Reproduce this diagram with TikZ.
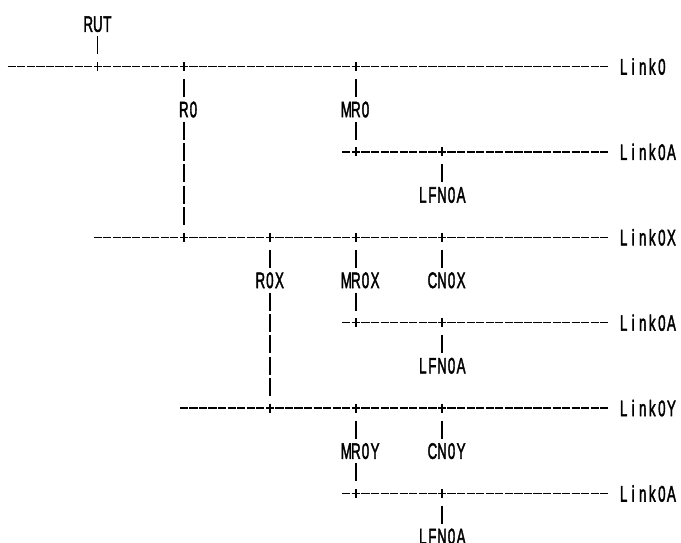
\documentclass[tikz,border=0pt]{standalone}
\usepackage{fontspec}
\usepackage{graphicx}
\setmainfont{Liberation Sans}
\newfontfamily\lblfont{Liberation Sans}[FakeBold=2.5]
\newcommand\gx[1]{7+9.56*(#1)}
\newcommand\gy[1]{23.8+21.35*(#1)}
\newcommand\monochar[1]{\makebox[9.56pt][c]{\scalebox{0.6}[1]{#1}}}
\def\monoloop#1{\ifx\relax#1\else\monochar{#1}\expandafter\monoloop\fi}
\newcommand\mono[1]{\monoloop#1\relax}
\tikzset{
  lbl/.style={inner sep=0pt, text height=17pt, text depth=1pt, font=\lblfont\fontsize{22.3}{24}\selectfont},
  jn/.style={inner sep=0pt, minimum height=18pt, minimum width=0pt},
  bus/.style={line width=1.3pt, dash pattern=on 8.2pt off 1.36pt},
  pipe/.style={line width=1.3pt, dash pattern=on 18pt off 3.35pt, dash phase=18pt},
  plustick/.style={line width=1.3pt},
}
\begin{document}
\begin{tikzpicture}[x=1pt,y=-1pt]
\useasboundingbox (0,0) rectangle (681,542);
% labels
\node[lbl] (lRUT) at ({\gx{9.5}},{\gy{0}}) {\mono{RUT}};
\node[lbl] (lR0) at ({\gx{19}},{\gy{4}}) {\mono{R0}};
\node[lbl] (lMR0) at ({\gx{36.5}},{\gy{4}}) {\mono{MR0}};
\node[lbl] (lLF1) at ({\gx{45.5}},{\gy{8}}) {\mono{LFN0A}};
\node[lbl] (lR0X) at ({\gx{27.5}},{\gy{12}}) {\mono{R0X}};
\node[lbl] (lMR0X) at ({\gx{37}},{\gy{12}}) {\mono{MR0X}};
\node[lbl] (lCN0X) at ({\gx{46}},{\gy{12}}) {\mono{CN0X}};
\node[lbl] (lLF2) at ({\gx{45.5}},{\gy{16}}) {\mono{LFN0A}};
\node[lbl] (lMR0Y) at ({\gx{37}},{\gy{20}}) {\mono{MR0Y}};
\node[lbl] (lCN0Y) at ({\gx{46}},{\gy{20}}) {\mono{CN0Y}};
\node[lbl] (lLF3) at ({\gx{45.5}},{\gy{24}}) {\mono{LFN0A}};
% link names
\node[lbl] (k0) at ({\gx{66.5}},{\gy{2}}) {\mono{Link0}};
\node[lbl] (kA1) at ({\gx{67}},{\gy{6}}) {\mono{Link0A}};
\node[lbl] (kX) at ({\gx{67}},{\gy{10}}) {\mono{Link0X}};
\node[lbl] (kA2) at ({\gx{67}},{\gy{14}}) {\mono{Link0A}};
\node[lbl] (kY) at ({\gx{67}},{\gy{18}}) {\mono{Link0Y}};
\node[lbl] (kA3) at ({\gx{67}},{\gy{22}}) {\mono{Link0A}};
% junctions
\node[jn] (j2a) at ({\gx{9.5}},{\gy{2}}) {};
\node[jn] (j2b) at ({\gx{18.5}},{\gy{2}}) {};
\node[jn] (j2c) at ({\gx{36.5}},{\gy{2}}) {};
\node[jn] (j6a) at ({\gx{36.5}},{\gy{6}}) {};
\node[jn] (j6b) at ({\gx{45.5}},{\gy{6}}) {};
\node[jn] (j10a) at ({\gx{18.5}},{\gy{10}}) {};
\node[jn] (j10b) at ({\gx{27.5}},{\gy{10}}) {};
\node[jn] (j10c) at ({\gx{36.5}},{\gy{10}}) {};
\node[jn] (j10d) at ({\gx{45.5}},{\gy{10}}) {};
\node[jn] (j14a) at ({\gx{36.5}},{\gy{14}}) {};
\node[jn] (j14b) at ({\gx{45.5}},{\gy{14}}) {};
\node[jn] (j18a) at ({\gx{27.5}},{\gy{18}}) {};
\node[jn] (j18b) at ({\gx{36.5}},{\gy{18}}) {};
\node[jn] (j18c) at ({\gx{45.5}},{\gy{18}}) {};
\node[jn] (j22a) at ({\gx{36.5}},{\gy{22}}) {};
\node[jn] (j22b) at ({\gx{45.5}},{\gy{22}}) {};
% bus starts
\coordinate (s0) at ({\gx{0}+0.68},{\gy{2}});
\coordinate (sA1) at ({\gx{35}+0.68},{\gy{6}});
\coordinate (sX) at ({\gx{9}+0.68},{\gy{10}});
\coordinate (sA2) at ({\gx{35}+0.68},{\gy{14}});
\coordinate (sY) at ({\gx{18}+0.68},{\gy{18}});
\coordinate (sA3) at ({\gx{35}+0.68},{\gy{22}});
% buses
\draw[bus] (s0) -- ([xshift=-10.24pt]k0.west);
\draw[bus] (sA1) -- ([xshift=-10.24pt]kA1.west);
\draw[bus] (sX) -- ([xshift=-10.24pt]kX.west);
\draw[bus] (sA2) -- ([xshift=-10.24pt]kA2.west);
\draw[bus] (sY) -- ([xshift=-10.24pt]kY.west);
\draw[bus] (sA3) -- ([xshift=-10.24pt]kA3.west);
% plus ticks
\foreach \j in {j2a,j2b,j2c,j6a,j6b,j10a,j10b,j10c,j10d,j14a,j14b,j18a,j18b,j18c,j22a,j22b}
  \draw[plustick] ([yshift=4.5pt]\j.center) -- ([yshift=-4.5pt]\j.center);
% vertical connectors
\draw[pipe] (lRUT.south -| j2a) -- (j2a.north);
\draw[pipe] (j2b.south) -- (lR0.north -| j2b);
\draw[pipe] (lR0.south -| j10a) -- (j10a.north);
\draw[pipe] (j2c.south) -- (lMR0.north -| j2c);
\draw[pipe] (lMR0.south -| j6a) -- (j6a.north);
\draw[pipe] (j6b.south) -- (lLF1.north -| j6b);
\draw[pipe] (j10b.south) -- (lR0X.north -| j10b);
\draw[pipe] (lR0X.south -| j18a) -- (j18a.north);
\draw[pipe] (j10c.south) -- (lMR0X.north -| j10c);
\draw[pipe] (lMR0X.south -| j14a) -- (j14a.north);
\draw[pipe] (j10d.south) -- (lCN0X.north -| j10d);
\draw[pipe] (j14b.south) -- (lLF2.north -| j14b);
\draw[pipe] (j18b.south) -- (lMR0Y.north -| j18b);
\draw[pipe] (lMR0Y.south -| j22a) -- (j22a.north);
\draw[pipe] (j18c.south) -- (lCN0Y.north -| j18c);
\draw[pipe] (j22b.south) -- (lLF3.north -| j22b);
\end{tikzpicture}
\end{document}
